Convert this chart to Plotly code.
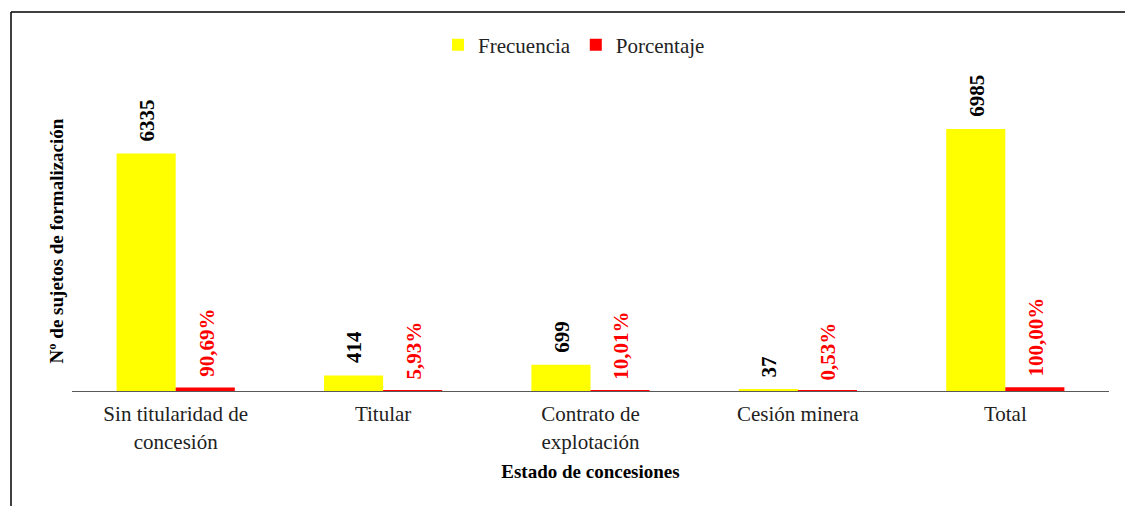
import plotly.graph_objects as go

categories = ["Sin titularidad de<br>concesión", "Titular", "Contrato de<br>explotación", "Cesión minera", "Total"]
frecuencia = [6335, 414, 699, 37, 6985]
porcentaje = [90.69, 5.93, 10.01, 0.53, 100.00]
frec_labels = ["6335", "414", "699", "37", "6985"]
porc_labels = ["90,69%", "5,93%", "10,01%", "0,53%", "100,00%"]

W, H = 1125, 506
ML, MR, MT, MB = 72, 16, 91, 115
PW = W - ML - MR
PH = H - MT - MB
YMAX = 8000
BARGAP = 0.43

FONT = "Liberation Serif, Times New Roman, serif"

fig = go.Figure()
fig.add_trace(go.Bar(name="Frecuencia", x=categories, y=frecuencia,
                     marker=dict(color="#FFFF00", line=dict(width=0))))
fig.add_trace(go.Bar(name="Porcentaje", x=categories, y=porcentaje,
                     marker=dict(color="#FF0000", line=dict(width=0))))

cat_w = PW / len(categories)
bar_w = cat_w * (1 - BARGAP) / 2
for i, c in enumerate(categories):
    fig.add_annotation(x=c, y=frecuencia[i], text=frec_labels[i], textangle=-90,
                       showarrow=False, xanchor="center", yanchor="bottom",
                       xshift=-bar_w / 2 + 1, yshift=10,
                       font=dict(family=FONT, size=21, color="black", weight="bold"))
    fig.add_annotation(x=c, y=porcentaje[i], text=porc_labels[i], textangle=-90,
                       showarrow=False, xanchor="center", yanchor="bottom",
                       xshift=bar_w / 2 + 1, yshift=9,
                       font=dict(family=FONT, size=21, color="#FF0000", weight="bold"))

# outer frame (top and left borders)
def px_to_paper_x(px):
    return (px - ML) / PW

def px_to_paper_y(py):
    return (H - MB - py) / PH

fig.add_shape(type="line", xref="paper", yref="paper",
              x0=px_to_paper_x(11), x1=px_to_paper_x(1130),
              y0=px_to_paper_y(12), y1=px_to_paper_y(12),
              line=dict(color="black", width=1.5))
fig.add_shape(type="line", xref="paper", yref="paper",
              x0=px_to_paper_x(11), x1=px_to_paper_x(11),
              y0=px_to_paper_y(12), y1=px_to_paper_y(510),
              line=dict(color="black", width=1.5))

fig.update_layout(
    width=W, height=H,
    margin=dict(l=ML, r=MR, t=MT, b=MB),
    paper_bgcolor="white", plot_bgcolor="white",
    barmode="group", bargap=BARGAP, bargroupgap=0,
    font=dict(family=FONT, color="#222222"),
    showlegend=True,
    legend=dict(orientation="h", x=px_to_paper_x(574), y=px_to_paper_y(45),
                xanchor="center", yanchor="middle",
                font=dict(family=FONT, size=21, color="#222222"),
                bgcolor="rgba(0,0,0,0)", traceorder="normal"),
    xaxis=dict(showline=True, linecolor="#595959", linewidth=1.2,
               showgrid=False, ticks="outside", ticklen=4, tickcolor="rgba(0,0,0,0)",
               zeroline=False, automargin=False,
               tickfont=dict(family=FONT, size=21, color="#222222"),
               title=dict(text="Estado de concesiones", standoff=12,
                          font=dict(family=FONT, size=19, color="black", weight="bold"))),
    yaxis=dict(range=[0, YMAX], showline=False, showgrid=False, zeroline=False,
               showticklabels=False, ticks="", automargin=False,
               title=dict(text="Nº de sujetos de formalización", standoff=2,
                          font=dict(family=FONT, size=19, color="black", weight="bold"))),
)

fig.write_html("out.html", config={"displayModeBar": False},
               post_script="document.body.style.margin='0';document.body.style.overflow='hidden';")
